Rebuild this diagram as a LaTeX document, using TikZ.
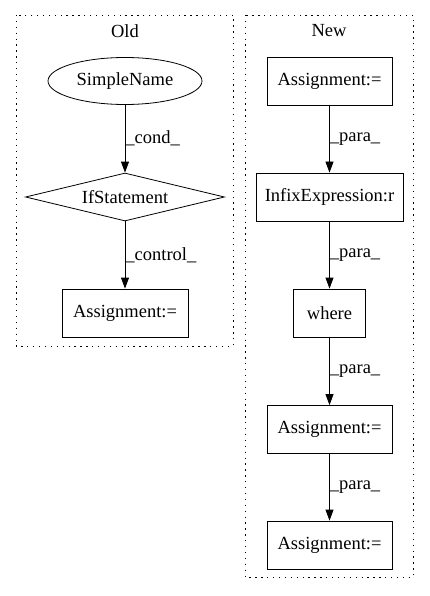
\documentclass[tikz,border=0pt]{standalone}
\usepackage{fontspec}
\setmainfont{Liberation Serif}
\usetikzlibrary{arrows.meta}
\usetikzlibrary{shapes.geometric}

\begin{document}
\begin{tikzpicture}[
            x=1pt, y=-1pt,
            font=\fontsize{18.5}{20}\selectfont,
            box node/.style={rectangle,draw,line width=0.8pt,inner sep=0pt,minimum height=48pt},
            ellipse node/.style={ellipse,draw,line width=0.8pt,inner sep=0pt,minimum width=154pt,minimum height=47pt},
            diamond node/.style={diamond,draw,line width=0.8pt,inner sep=0pt,aspect=4.1,minimum width=199pt,minimum height=48pt},
            cluster/.style={draw,dash pattern=on 1.3pt off 4.6pt,line width=0.9pt},
            flow/.style={-{Triangle[length=11pt,width=8pt]},line width=0.8pt},
            edge label/.style={right,inner sep=0pt,midway},
            ]
            \useasboundingbox (0,0) rectangle (429,596);

            % clusters
            \draw[cluster] (16,15) rectangle (233,346);
            \draw[cluster] (245,15) rectangle (413,577);
            \node (old) at (125,31) {Old};
            \node (new) at (329,31) {New};

            % old
            \node[ellipse node] (sname) at (125,81) {SimpleName};
            \node[diamond node] (ifst) at (125,197) {IfStatement};
            \node[box node, minimum width=126pt] (oassign) at (125,313) {Assignment:=};

            % new
            \node[box node, minimum width=125pt] (nassign1) at (329.5,81) {Assignment:=};
            \node[box node, minimum width=147pt] (infix) at (329.5,197) {InfixExpression:r};
            \node[box node, minimum width=72pt] (where) at (329.5,313) {where};
            \node[box node, minimum width=125pt] (nassign2) at (329.5,429.5) {Assignment:=};
            \node[box node, minimum width=125pt] (nassign3) at (329.5,545) {Assignment:=};

            \draw[flow] (sname) -- node[edge label] {\_cond\_} (ifst);
            \draw[flow] (ifst) -- node[edge label] {\_control\_} (oassign);
            \draw[flow] (nassign1) -- node[edge label] {\_para\_} (infix);
            \draw[flow] (infix) -- node[edge label] {\_para\_} (where);
            \draw[flow] (where) -- node[edge label] {\_para\_} (nassign2);
            \draw[flow] (nassign2) -- node[edge label] {\_para\_} (nassign3);
        \end{tikzpicture}
\end{document}
